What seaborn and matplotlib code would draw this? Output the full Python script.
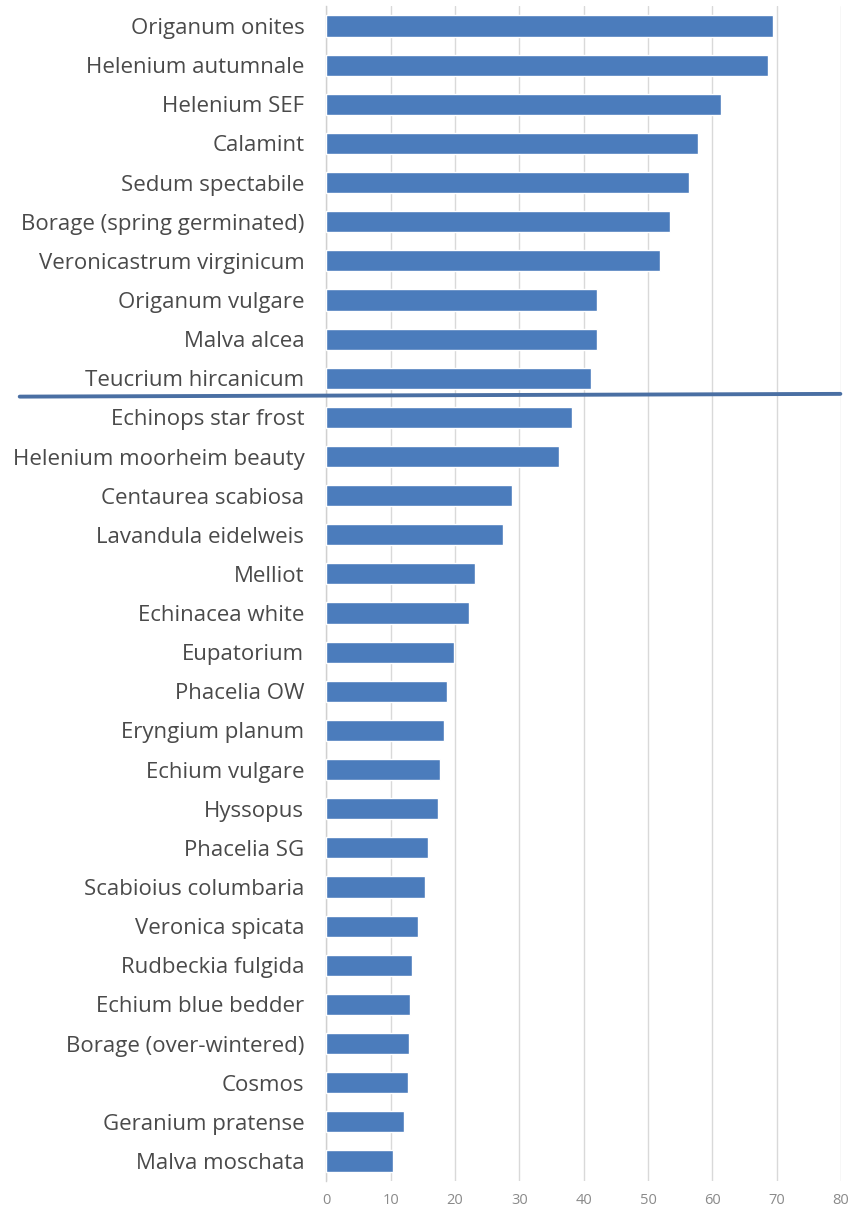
import matplotlib
matplotlib.use("Agg")
import matplotlib.pyplot as plt
import seaborn as sns
import pandas as pd

plants = [
    "Origanum onites", "Helenium autumnale", "Helenium SEF", "Calamint",
    "Sedum spectabile", "Borage (spring germinated)", "Veronicastrum virginicum",
    "Origanum vulgare", "Malva alcea", "Teucrium hircanicum",
    "Echinops star frost", "Helenium moorheim beauty", "Centaurea scabiosa",
    "Lavandula eidelweis", "Melliot", "Echinacea white", "Eupatorium",
    "Phacelia OW", "Eryngium planum", "Echium vulgare", "Hyssopus",
    "Phacelia SG", "Scabioius columbaria", "Veronica spicata",
    "Rudbeckia fulgida", "Echium blue bedder", "Borage (over-wintered)",
    "Cosmos", "Geranium pratense", "Malva moschata",
]
counts = [
    69.5, 68.6, 61.4, 57.7, 56.4, 53.4, 51.9, 42.1, 42.1, 41.1,
    38.1, 36.1, 28.9, 27.5, 23.1, 22.1, 19.8, 18.8, 18.3, 17.6,
    17.3, 15.8, 15.3, 14.3, 13.3, 13.0, 12.8, 12.6, 12.0, 10.3,
]
x_ticks = [0, 10, 20, 30, 40, 50, 60, 70, 80]

df = pd.DataFrame({"plant": plants, "count": counts})

sns.set_theme(style="white")
plt.rcParams["font.family"] = ["Open Sans", "DejaVu Sans"]

fig = plt.figure(figsize=(8.52, 12.08), dpi=100)
ax = fig.add_axes([0.3832, 0.0227, 0.9871 - 0.3832, 0.9947 - 0.0227])

sns.barplot(data=df, x="count", y="plant", orient="h", color="#4b7cbc",
            saturation=1, width=0.54, ax=ax, zorder=3)

ax.set_xlim(0, 80)
ax.set_ylim(len(plants) - 0.5, -0.5)
ax.set_xticks(x_ticks)
ax.set_xticklabels([str(t) for t in x_ticks])
ax.xaxis.grid(True, color="#d9d9d9", linewidth=1.0, zorder=0)
ax.yaxis.grid(False)
for side in ["top", "right", "bottom"]:
    ax.spines[side].set_visible(False)
ax.spines["left"].set_color("#d0d0d0")
ax.spines["left"].set_linewidth(1.0)

ax.tick_params(axis="x", length=0, pad=9, labelsize=10.5, labelcolor="#8a8a8a")
ax.tick_params(axis="y", length=0, pad=16, labelsize=16, labelcolor="#4a4a4a")
ax.set_xlabel("")
ax.set_ylabel("")

# divider between the top ten and the rest
ax.plot([-47.7, 79.9], [9.47, 9.40], color="#4a6fa3", linewidth=2.8,
        solid_capstyle="round", clip_on=False, zorder=5)

fig.savefig("out.png", dpi=100)
